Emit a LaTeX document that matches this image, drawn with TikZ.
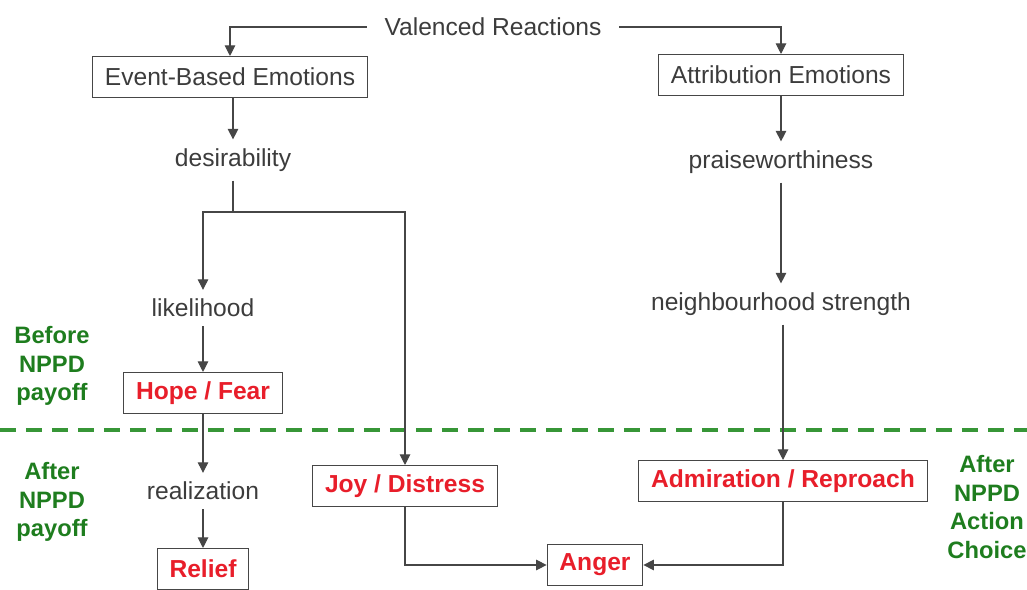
\documentclass[tikz,border=0pt]{standalone}
\usepackage{fontspec}
\setmainfont{Liberation Sans}
\usepackage{tikz}
\usetikzlibrary{arrows.meta}

\definecolor{txtgray}{RGB}{60,60,60}
\definecolor{linegray}{RGB}{70,70,70}
\definecolor{emored}{RGB}{232,30,42}
\definecolor{stagegreen}{RGB}{30,125,30}
\definecolor{dashgreen}{RGB}{55,150,55}

\begin{document}
\begin{tikzpicture}[x=0.02cm,y=-0.02cm,
    font=\fontsize{14}{16.5}\selectfont,
    box/.style={draw=linegray,line width=0.6pt,inner xsep=7pt,minimum height=0.82cm,text=txtgray},
    emo/.style={box,text=emored,font=\fontsize{14}{16.5}\selectfont\bfseries},
    lbl/.style={text=txtgray,inner sep=5pt},
    stage/.style={text=stagegreen,align=center,font=\fontsize{13.5}{16.3}\selectfont\bfseries},
    arr/.style={draw=linegray,line width=0.6pt,-{Triangle[length=6pt,width=6pt]}}]
    \useasboundingbox (0,0) rectangle (1027,590);
    \node[lbl,inner xsep=10pt] (val) at (493,27) {Valenced Reactions};
    \node[box] (event) at (230,77) {Event-Based Emotions};
    \node[box] (attr) at (781,75) {Attribution Emotions};
    \node[lbl] (des) at (233,160) {desirability};
    \node[lbl] (praise) at (781,162) {praiseworthiness};
    \coordinate (split) at (233,212);
    \node[lbl] (like) at (203,308) {likelihood};
    \node[lbl] (nbh) at (781,304) {neighbourhood strength};
    \node[emo] (hope) at (203,393) {Hope / Fear};
    \node[lbl] (real) at (203,491) {realization};
    \node[emo] (relief) at (203,569) {Relief};
    \node[emo] (joy) at (405,486) {Joy / Distress};
    \node[emo] (adm) at (783,481) {Admiration / Reproach};
    \node[emo] (anger) at (595,565) {Anger};
    \node[stage] (before) at (52,366) {Before\\NPPD\\payoff};
    \node[stage] (after) at (52,502) {After\\NPPD\\payoff};
    \node[stage] (action) at (987,507) {After\\NPPD\\Action\\Choice};
    \draw[dashgreen,line width=2.2pt,dash pattern=on 0.32cm off 0.2cm] (0,430) -- (1027,430);
    \draw[arr] (val.west) -| (event.north);
    \draw[arr] (val.east) -| (attr.north);
    \draw[arr] (event.south -| des) -- (des);
    \draw[arr] (attr) -- (praise);
    \draw[draw=linegray,line width=0.6pt] (des) -- (split);
    \draw[arr] (split) -| (like.north);
    \draw[arr] (split) -| (joy.north);
    \draw[arr] (like) -- (hope);
    \draw[arr] (hope) -- (real);
    \draw[arr] (real) -- (relief);
    \draw[arr] (praise) -- (nbh);
    \draw[arr] (nbh.south -| adm) -- (adm);
    \draw[arr] (joy.south) |- (anger.west);
    \draw[arr] (adm.south) |- (anger.east);
\end{tikzpicture}
\end{document}
